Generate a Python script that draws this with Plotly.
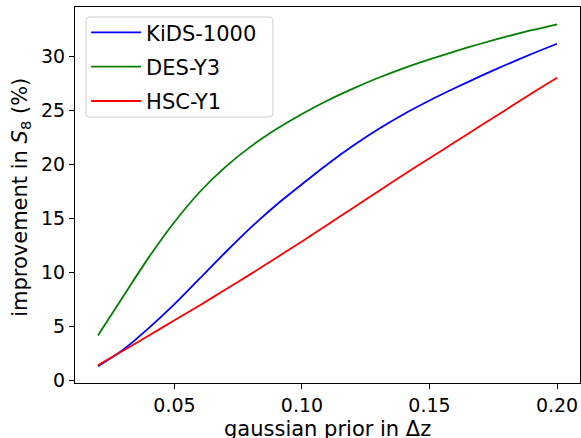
import plotly.graph_objects as go

prior_dz = [0.02, 0.03, 0.04, 0.05, 0.06, 0.07, 0.08, 0.09, 0.10, 0.11,
            0.12, 0.13, 0.14, 0.15, 0.16, 0.17, 0.18, 0.19, 0.20]

kids_1000 = [1.35, 2.9, 4.9, 7.1, 9.5, 11.9, 14.2, 16.3, 18.2, 20.05,
             21.75, 23.3, 24.7, 25.95, 27.1, 28.2, 29.25, 30.25, 31.2]
des_y3 = [4.2, 7.85, 11.45, 14.7, 17.5, 19.8, 21.7, 23.3, 24.7, 25.95,
          27.05, 28.05, 28.95, 29.75, 30.5, 31.2, 31.85, 32.45, 33.0]
hsc_y1 = [1.45, 2.8, 4.2, 5.6, 7.0, 8.45, 9.9, 11.4, 12.9, 14.45,
          16.0, 17.55, 19.1, 20.6, 22.1, 23.6, 25.1, 26.6, 28.05]

series_names = ["KiDS-1000", "DES-Y3", "HSC-Y1"]
series_values = [kids_1000, des_y3, hsc_y1]
series_colors = ["#0000ff", "#008000", "#ff0000"]

x_ticks = [0.05, 0.10, 0.15, 0.20]
x_ticklabels = ["0.05", "0.10", "0.15", "0.20"]
y_ticks = [0, 5, 10, 15, 20, 25, 30]

x_title = "gaussian prior in Δz"
y_title = "improvement in <i>S</i><sub>8</sub> (%)"

font_family = "DejaVu Sans"

# legend frame (paper coordinates), rounded corners
lx0, lx1, ly0, ly1 = 0.0218, 0.392, 0.7074, 0.9734
rx, ry = 0.008, 0.0106
frame_path = (
    f"M{lx0+rx},{ly1} L{lx1-rx},{ly1} Q{lx1},{ly1} {lx1},{ly1-ry} "
    f"L{lx1},{ly0+ry} Q{lx1},{ly0} {lx1-rx},{ly0} "
    f"L{lx0+rx},{ly0} Q{lx0},{ly0} {lx0},{ly0+ry} "
    f"L{lx0},{ly1-ry} Q{lx0},{ly1} {lx0+rx},{ly1} Z"
)

fig = go.Figure()
for name, vals, col in zip(series_names, series_values, series_colors):
    fig.add_trace(go.Scatter(
        x=prior_dz, y=vals, mode="lines", name=name, legendgroup=name,
        line=dict(color=col, width=1.8, shape="spline", smoothing=0.8),
    ))

fig.update_layout(
    width=581, height=438,
    margin=dict(l=75, r=1, t=7, b=55),
    paper_bgcolor="white", plot_bgcolor="white",
    font=dict(family=font_family, size=19, color="black"),
    showlegend=True,
    legend=dict(
        x=0.022, y=0.986, xanchor="left", yanchor="top",
        bgcolor="rgba(0,0,0,0)", borderwidth=0,
        font=dict(family=font_family, size=21, color="black"),
        tracegroupgap=4, itemwidth=50,
    ),
    shapes=[
        dict(type="path", path=frame_path, xref="paper", yref="paper",
             line=dict(color="#cccccc", width=1),
             fillcolor="rgba(255,255,255,0.8)", layer="below"),
    ],
    xaxis=dict(
        range=[0.011, 0.209], tickvals=x_ticks, ticktext=x_ticklabels,
        showgrid=False, zeroline=False, showline=True, linecolor="black",
        linewidth=1, mirror=True, ticks="outside", ticklen=5, tickcolor="black",
        automargin=False,
    ),
    yaxis=dict(
        range=[-0.2, 34.6], tickvals=y_ticks,
        showgrid=False, zeroline=False, showline=True, linecolor="black",
        linewidth=1, mirror=True, ticks="outside", ticklen=5, tickcolor="black",
        automargin=False,
    ),
    annotations=[
        dict(text=x_title, xref="paper", yref="paper", x=0.5, y=-0.1223,
             xanchor="center", yanchor="middle", showarrow=False,
             font=dict(family=font_family, size=21, color="black")),
        dict(text=y_title, xref="paper", yref="paper", x=-0.107, y=0.495,
             xanchor="center", yanchor="middle", showarrow=False, textangle=-90,
             font=dict(family=font_family, size=21, color="black")),
    ],
)

fig.write_html(
    "out.html",
    config={"displayModeBar": False},
    post_script="document.body.style.margin='0';document.body.style.overflow='hidden';",
)
